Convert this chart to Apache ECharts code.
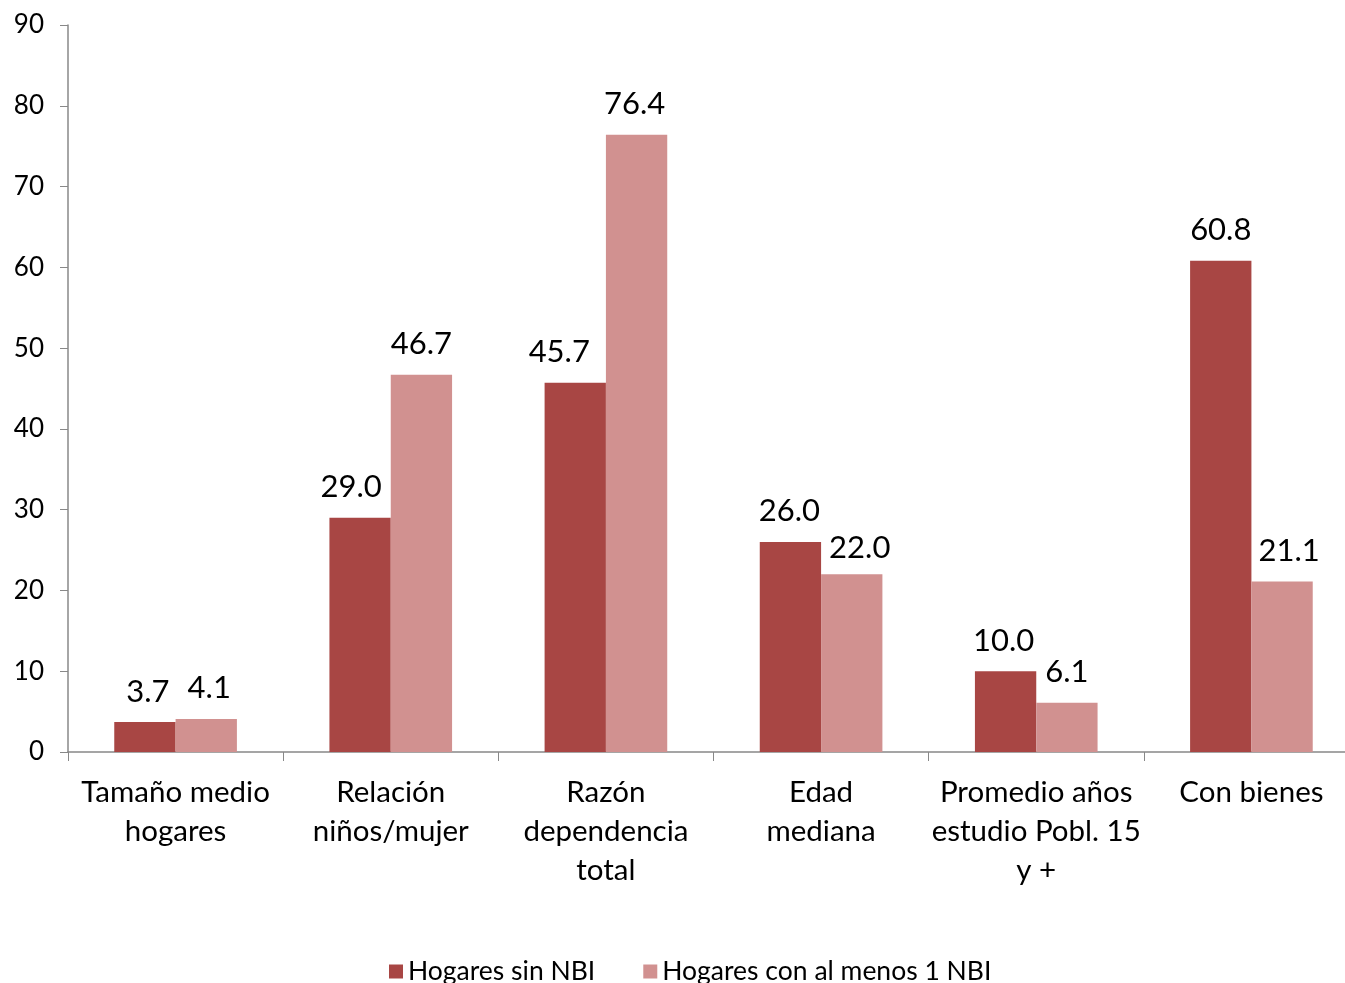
<!DOCTYPE html>
<html><head><meta charset="utf-8">
<script src="https://cdn.jsdelivr.net/npm/echarts@6/dist/echarts.min.js"></script>
<style>html,body{margin:0;padding:0;background:#fff;overflow:hidden;width:1345px;height:983px}#c{width:1362px;height:983px}</style>
</head><body><div id="c"></div>
<script>
const categories = ["Tamaño medio\nhogares", "Relación\nniños/mujer", "Razón\ndependencia\ntotal", "Edad\nmediana", "Promedio años\nestudio Pobl. 15\ny +", "Con bienes"];
const sinNBI = [3.7, 29.0, 45.7, 26.0, 10.0, 60.8];
const conNBI = [4.1, 46.7, 76.4, 22.0, 6.1, 21.1];
const seriesNames = ["Hogares sin NBI", "Hogares con al menos 1 NBI"];
const yTicks = [0, 10, 20, 30, 40, 50, 60, 70, 80, 90];

// label nudges (styling only, px) to mimic the original placement
const nudgeSin = [[3, 0], [-9, 0], [-16, 0], [-1, 0], [-2, 0], [0, 0]];
const nudgeCon = [[3, 0], [0, 0], [-2, 0], [8, 4], [0, 0], [7, 0]];

const FONT = "Lato";
const chart = echarts.init(document.getElementById('c'));
const labelCfg = {
  show: true, position: 'top', distance: 15,
  fontFamily: FONT, fontSize: 31, color: '#000',
  formatter: p => p.value.toFixed(1)
};
const withNudge = (vals, nudges) => vals.map((v, i) => ({ value: v, label: { offset: nudges[i] } }));
chart.setOption({
  animation: false,
  textStyle: { fontFamily: FONT },
  grid: { left: 68, top: 25, width: 1291, height: 727 },
  legend: {
    bottom: -7, left: 384, itemWidth: 14, itemHeight: 14, itemGap: 48,
    icon: 'rect',
    textStyle: { fontFamily: FONT, fontSize: 26.5, color: '#000' },
    data: seriesNames
  },
  xAxis: {
    type: 'category', data: categories,
    axisLine: { lineStyle: { color: '#888', width: 1.5 } },
    axisTick: { show: true, length: 9, lineStyle: { color: '#888' } },
    axisLabel: { fontFamily: FONT, fontSize: 29.5, color: '#000', lineHeight: 39, margin: 21, interval: 0 }
  },
  yAxis: {
    type: 'value', min: 0, max: 90, interval: 10,
    axisLine: { show: true, lineStyle: { color: '#888', width: 1.5 } },
    axisTick: { show: true, length: 8, lineStyle: { color: '#888' } },
    splitLine: { show: false },
    axisLabel: { fontFamily: FONT, fontSize: 26, color: '#000', margin: 24,
      formatter: v => yTicks.includes(v) ? String(v) : '' }
  },
  series: [
    { name: seriesNames[0], type: 'bar', data: withNudge(sinNBI, nudgeSin), barGap: '0%', barCategoryGap: '43%',
      itemStyle: { color: '#A84644' }, label: labelCfg },
    { name: seriesNames[1], type: 'bar', data: withNudge(conNBI, nudgeCon),
      itemStyle: { color: '#D19190' }, label: labelCfg }
  ]
});
</script></body></html>
